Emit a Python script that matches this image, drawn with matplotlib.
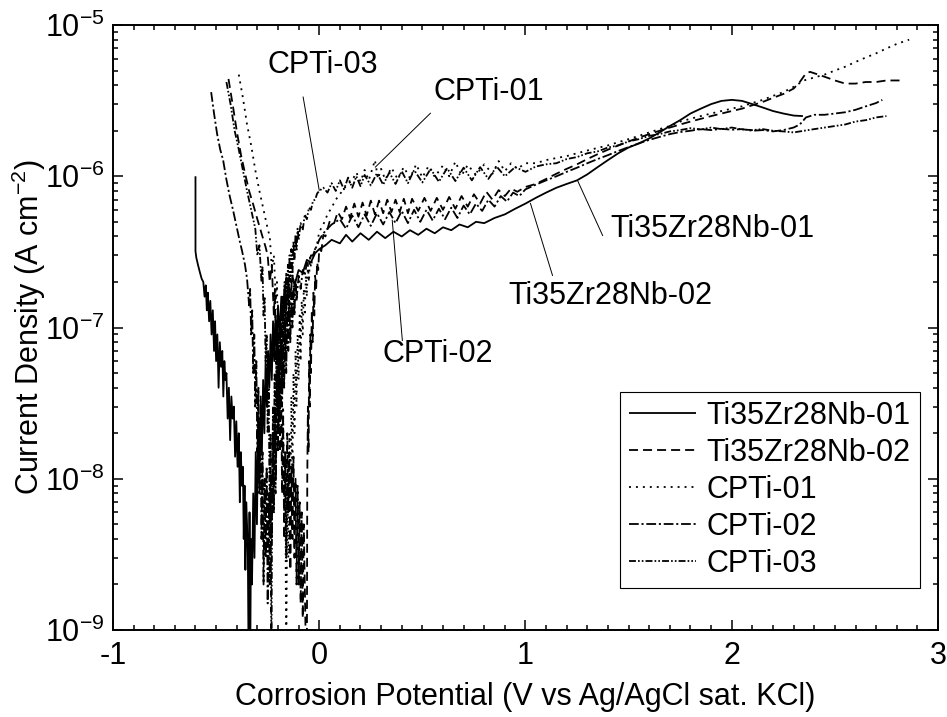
import numpy as np
import matplotlib
matplotlib.use("Agg")
import matplotlib.pyplot as plt
from matplotlib.ticker import MultipleLocator, LogLocator, NullFormatter

plt.rcParams['font.family'] = ['Liberation Sans', 'DejaVu Sans']
plt.rcParams['mathtext.fontset'] = 'custom'
plt.rcParams['mathtext.rm'] = 'Liberation Sans'
plt.rcParams['mathtext.default'] = 'regular'
plt.rcParams['axes.unicode_minus'] = False
plt.rcParams['lines.scale_dashes'] = False

## potentiodynamic scans: (potential V, current density A/cm2)

ti01 = [(-0.600, 1.0e-6), (-0.600, 3.2e-7), (-0.596, 2.9e-7), (-0.588, 2.6e-7), (-0.578, 2.3e-7),
        (-0.570, 2.1e-7), (-0.562, 2.0e-7), (-0.556, 1.6e-7), (-0.550, 1.9e-7), (-0.545, 1.3e-7),
        (-0.540, 1.7e-7), (-0.534, 1.1e-7), (-0.528, 1.5e-7), (-0.522, 9.0e-8), (-0.516, 1.3e-7),
        (-0.510, 7.0e-8), (-0.505, 1.1e-7), (-0.500, 6.0e-8), (-0.494, 9.0e-8), (-0.488, 4.0e-8),
        (-0.482, 8.0e-8), (-0.476, 5.5e-8), (-0.470, 7.0e-8), (-0.465, 3.5e-8), (-0.460, 6.0e-8),
        (-0.455, 4.5e-8), (-0.450, 5.0e-8), (-0.444, 2.5e-8), (-0.438, 4.0e-8), (-0.432, 1.8e-8),
        (-0.426, 3.5e-8), (-0.420, 2.5e-8), (-0.414, 3.0e-8), (-0.408, 1.4e-8), (-0.402, 2.4e-8),
        (-0.396, 1.2e-8), (-0.390, 2.0e-8), (-0.385, 7.0e-9), (-0.380, 1.5e-8), (-0.375, 9.0e-9),
        (-0.370, 1.2e-8), (-0.366, 4.0e-9), (-0.362, 9.0e-9), (-0.358, 2.5e-9), (-0.354, 7.0e-9),
        (-0.350, 5.0e-9), (-0.346, 3.0e-9), (-0.342, 5e-10), (-0.338, 6.0e-9), (-0.335, 5e-10),
        (-0.331, 4.0e-9), (-0.326, 2.0e-9), (-0.320, 8.0e-9), (-0.314, 3.0e-9), (-0.308, 1.5e-8),
        (-0.302, 5.0e-9), (-0.296, 2.5e-8), (-0.290, 9.0e-9), (-0.284, 3.5e-8), (-0.278, 1.5e-8),
        (-0.272, 4.5e-8), (-0.266, 2.0e-8), (-0.260, 6.0e-8), (-0.254, 3.0e-8), (-0.248, 7.0e-8),
        (-0.242, 4.0e-8), (-0.236, 9.0e-8), (-0.230, 4.5e-8), (-0.224, 1.1e-7), (-0.218, 6.0e-8),
        (-0.212, 1.2e-7), (-0.206, 7.0e-8), (-0.200, 1.4e-7), (-0.192, 9.0e-8), (-0.184, 1.6e-7),
        (-0.176, 1.1e-7), (-0.168, 1.8e-7), (-0.160, 1.3e-7), (-0.150, 2.0e-7), (-0.140, 1.6e-7),
        (-0.130, 2.2e-7), (-0.120, 1.9e-7), (-0.100, 2.4e-7), (-0.080, 2.3e-7), (-0.060, 2.8e-7),
        (-0.040, 2.7e-7), (-0.020, 3.1e-7), (0.000, 3.3e-7), (0.030, 3.5e-7), (0.060, 3.8e-7),
        (0.100, 3.6e-7), (0.130, 4.1e-7), (0.160, 3.7e-7), (0.200, 4.2e-7), (0.240, 3.8e-7),
        (0.280, 4.3e-7), (0.320, 3.9e-7), (0.360, 4.3e-7), (0.400, 4.0e-7), (0.440, 4.4e-7),
        (0.480, 4.1e-7), (0.520, 4.5e-7), (0.560, 4.2e-7), (0.600, 4.6e-7), (0.640, 4.4e-7),
        (0.680, 4.8e-7), (0.720, 4.6e-7), (0.760, 5.0e-7), (0.800, 4.9e-7), (0.850, 5.3e-7),
        (0.900, 5.6e-7), (0.950, 6.1e-7), (1.000, 6.6e-7), (1.050, 7.2e-7), (1.100, 7.8e-7),
        (1.150, 8.4e-7), (1.200, 8.9e-7), (1.250, 9.4e-7), (1.300, 1.03e-6), (1.350, 1.15e-6),
        (1.400, 1.28e-6), (1.450, 1.42e-6), (1.500, 1.55e-6), (1.550, 1.65e-6), (1.600, 1.78e-6),
        (1.650, 1.95e-6), (1.700, 2.15e-6), (1.750, 2.35e-6), (1.800, 2.6e-6), (1.850, 2.8e-6),
        (1.900, 3.0e-6), (1.950, 3.15e-6), (2.000, 3.2e-6), (2.050, 3.15e-6), (2.100, 3.0e-6),
        (2.150, 2.85e-6), (2.200, 2.7e-6), (2.250, 2.6e-6), (2.300, 2.52e-6), (2.345, 2.5e-6)]

ti02 = [(-0.440, 4.4e-6), (-0.420, 3.0e-6), (-0.400, 2.0e-6), (-0.380, 1.4e-6), (-0.360, 1.05e-6),
        (-0.340, 8.0e-7), (-0.320, 6.5e-7), (-0.300, 5.2e-7), (-0.280, 4.2e-7), (-0.260, 3.4e-7),
        (-0.250, 3.0e-7), (-0.240, 2.0e-7), (-0.230, 2.6e-7), (-0.220, 1.2e-7), (-0.215, 1.8e-7),
        (-0.210, 6.0e-8), (-0.205, 1.1e-7), (-0.200, 3.0e-8), (-0.195, 7.0e-8), (-0.190, 1.5e-8),
        (-0.185, 4.0e-8), (-0.180, 8.0e-9), (-0.175, 2.5e-8), (-0.170, 4.0e-9), (-0.165, 1.5e-8),
        (-0.160, 3.0e-9), (-0.155, 2.0e-8), (-0.150, 6.0e-9), (-0.145, 1.5e-8), (-0.140, 2.5e-9),
        (-0.135, 1.2e-8), (-0.130, 4.0e-9), (-0.125, 1.4e-8), (-0.120, 3.0e-9), (-0.115, 1.0e-8),
        (-0.110, 2.0e-9), (-0.105, 9.0e-9), (-0.100, 2.0e-9), (-0.095, 7.0e-9), (-0.090, 1.5e-9),
        (-0.085, 6.0e-9), (-0.080, 1.2e-9), (-0.075, 5.0e-9), (-0.070, 2.0e-9), (-0.063, 5e-10),
        (-0.060, 5e-10), (-0.058, 1.0e-8), (-0.055, 3.0e-8), (-0.052, 1.5e-8), (-0.049, 6.0e-8),
        (-0.046, 3.0e-8), (-0.043, 9.0e-8), (-0.040, 5.0e-8), (-0.036, 1.3e-7), (-0.032, 8.0e-8),
        (-0.028, 1.7e-7), (-0.024, 1.2e-7), (-0.020, 2.2e-7), (-0.015, 1.8e-7), (-0.010, 2.7e-7),
        (-0.005, 2.4e-7), (0.000, 3.3e-7), (0.010, 3.2e-7), (0.020, 4.1e-7), (0.030, 4.0e-7),
        (0.050, 5.0e-7), (0.070, 4.8e-7), (0.090, 5.8e-7), (0.110, 5.2e-7), (0.130, 6.3e-7),
        (0.150, 5.3e-7), (0.170, 6.6e-7), (0.190, 5.4e-7), (0.210, 6.7e-7), (0.230, 5.5e-7),
        (0.250, 6.9e-7), (0.270, 5.6e-7), (0.290, 6.9e-7), (0.310, 5.7e-7), (0.330, 7.0e-7),
        (0.350, 5.8e-7), (0.370, 7.0e-7), (0.390, 5.8e-7), (0.410, 7.1e-7), (0.430, 5.7e-7),
        (0.450, 7.1e-7), (0.480, 5.9e-7), (0.510, 7.2e-7), (0.540, 5.9e-7), (0.570, 7.2e-7),
        (0.600, 6.0e-7), (0.630, 7.3e-7), (0.660, 6.1e-7), (0.690, 7.4e-7), (0.720, 6.3e-7),
        (0.750, 7.6e-7), (0.780, 6.6e-7), (0.810, 7.9e-7), (0.840, 7.0e-7), (0.870, 8.1e-7),
        (0.900, 7.4e-7), (0.930, 8.3e-7), (0.960, 7.9e-7), (1.000, 8.5e-7), (1.050, 8.9e-7),
        (1.100, 9.6e-7), (1.150, 1.04e-6), (1.200, 1.12e-6), (1.250, 1.2e-6), (1.300, 1.3e-6),
        (1.350, 1.4e-6), (1.400, 1.5e-6), (1.450, 1.6e-6), (1.500, 1.7e-6), (1.550, 1.8e-6),
        (1.600, 1.9e-6), (1.650, 2.0e-6), (1.700, 2.1e-6), (1.750, 2.2e-6), (1.800, 2.3e-6),
        (1.850, 2.4e-6), (1.900, 2.5e-6), (1.950, 2.6e-6), (2.000, 2.7e-6), (2.050, 2.8e-6),
        (2.100, 2.95e-6), (2.150, 3.1e-6), (2.200, 3.3e-6), (2.250, 3.5e-6), (2.300, 3.8e-6),
        (2.330, 4.2e-6), (2.360, 4.8e-6), (2.380, 4.9e-6), (2.420, 4.7e-6), (2.460, 4.5e-6),
        (2.500, 4.3e-6), (2.550, 4.1e-6), (2.600, 4.1e-6), (2.650, 4.2e-6), (2.700, 4.2e-6),
        (2.750, 4.3e-6), (2.820, 4.3e-6)]

cpti01 = [(-0.390, 4.7e-6), (-0.370, 3.3e-6), (-0.350, 2.2e-6), (-0.330, 1.6e-6), (-0.310, 1.1e-6),
          (-0.290, 8.0e-7), (-0.270, 6.0e-7), (-0.250, 4.5e-7), (-0.240, 4.0e-7), (-0.230, 2.5e-7),
          (-0.220, 3.0e-7), (-0.210, 1.5e-7), (-0.205, 2.0e-7), (-0.200, 8.0e-8), (-0.195, 1.2e-7),
          (-0.190, 4.0e-8), (-0.185, 7.0e-8), (-0.180, 1.5e-8), (-0.175, 3.0e-8), (-0.170, 6.0e-9),
          (-0.165, 1.5e-8), (-0.160, 5e-10), (-0.155, 1.0e-8), (-0.150, 3.0e-9), (-0.145, 2.0e-8),
          (-0.140, 6.0e-9), (-0.135, 3.5e-8), (-0.130, 1.0e-8), (-0.125, 5.0e-8), (-0.120, 2.0e-8),
          (-0.115, 7.0e-8), (-0.110, 3.0e-8), (-0.105, 9.0e-8), (-0.100, 4.5e-8), (-0.095, 1.2e-7),
          (-0.090, 6.0e-8), (-0.085, 1.5e-7), (-0.080, 9.0e-8), (-0.075, 1.8e-7), (-0.070, 1.2e-7),
          (-0.065, 2.2e-7), (-0.060, 1.6e-7), (-0.055, 2.6e-7), (-0.050, 2.0e-7), (-0.045, 2.9e-7),
          (-0.040, 2.5e-7), (-0.030, 3.1e-7), (-0.020, 3.3e-7), (-0.010, 3.6e-7), (0.000, 4.3e-7),
          (0.020, 4.8e-7), (0.040, 5.6e-7), (0.060, 6.2e-7), (0.080, 7.0e-7), (0.100, 7.6e-7),
          (0.120, 8.3e-7), (0.140, 8.9e-7), (0.160, 9.4e-7), (0.180, 1.06e-6), (0.200, 9.2e-7),
          (0.220, 1.1e-6), (0.240, 9.4e-7), (0.260, 1.15e-6), (0.270, 1.28e-6), (0.285, 9.6e-7),
          (0.300, 1.12e-6), (0.320, 9.5e-7), (0.350, 1.14e-6), (0.380, 9.6e-7), (0.410, 1.15e-6),
          (0.440, 9.7e-7), (0.470, 1.2e-6), (0.500, 9.8e-7), (0.530, 1.17e-6), (0.560, 9.9e-7),
          (0.600, 1.18e-6), (0.630, 1.0e-6), (0.660, 1.25e-6), (0.690, 1.01e-6), (0.720, 1.19e-6),
          (0.760, 1.02e-6), (0.800, 1.2e-6), (0.840, 1.04e-6), (0.870, 1.26e-6), (0.900, 1.08e-6),
          (0.930, 1.22e-6), (0.960, 1.12e-6), (1.000, 1.22e-6), (1.050, 1.22e-6), (1.100, 1.28e-6),
          (1.150, 1.32e-6), (1.200, 1.36e-6), (1.250, 1.42e-6), (1.300, 1.48e-6), (1.350, 1.54e-6),
          (1.400, 1.6e-6), (1.450, 1.68e-6), (1.500, 1.76e-6), (1.550, 1.85e-6), (1.600, 1.95e-6),
          (1.650, 2.05e-6), (1.700, 2.15e-6), (1.750, 2.3e-6), (1.800, 2.4e-6), (1.850, 2.5e-6),
          (1.900, 2.6e-6), (1.950, 2.7e-6), (2.000, 2.8e-6), (2.050, 2.9e-6), (2.100, 3.05e-6),
          (2.150, 3.2e-6), (2.200, 3.4e-6), (2.250, 3.6e-6), (2.300, 3.9e-6), (2.350, 4.3e-6),
          (2.400, 4.5e-6), (2.450, 4.7e-6), (2.500, 5.0e-6), (2.550, 5.3e-6), (2.600, 5.7e-6),
          (2.650, 6.1e-6), (2.700, 6.5e-6), (2.750, 7.0e-6), (2.800, 7.5e-6), (2.860, 8.0e-6)]

cpti02 = [(-0.524, 3.6e-6), (-0.510, 2.6e-6), (-0.495, 1.9e-6), (-0.480, 1.5e-6), (-0.466, 1.28e-6),
          (-0.450, 9.5e-7), (-0.435, 7.5e-7), (-0.417, 5.9e-7), (-0.400, 4.6e-7), (-0.385, 3.7e-7),
          (-0.374, 3.2e-7), (-0.360, 2.6e-7), (-0.350, 2.1e-7), (-0.340, 1.4e-7), (-0.335, 1.8e-7),
          (-0.330, 9.0e-8), (-0.325, 1.3e-7), (-0.320, 5.0e-8), (-0.315, 9.0e-8), (-0.310, 3.0e-8),
          (-0.305, 6.0e-8), (-0.300, 1.5e-8), (-0.295, 4.0e-8), (-0.290, 8.0e-9), (-0.285, 2.5e-8),
          (-0.280, 4.0e-9), (-0.275, 1.5e-8), (-0.270, 2.0e-9), (-0.265, 1.0e-8), (-0.260, 3.0e-9),
          (-0.255, 1.2e-8), (-0.250, 1.5e-9), (-0.245, 8.0e-9), (-0.240, 2.0e-9), (-0.235, 1.0e-8),
          (-0.230, 4.0e-9), (-0.225, 2.0e-8), (-0.220, 6.0e-9), (-0.215, 3.0e-8), (-0.210, 1.0e-8),
          (-0.205, 4.5e-8), (-0.200, 1.5e-8), (-0.195, 6.0e-8), (-0.190, 2.5e-8), (-0.185, 7.0e-8),
          (-0.180, 3.0e-8), (-0.175, 9.0e-8), (-0.170, 4.0e-8), (-0.165, 1.1e-7), (-0.160, 5.0e-8),
          (-0.155, 1.3e-7), (-0.150, 7.0e-8), (-0.145, 1.5e-7), (-0.140, 8.0e-8), (-0.135, 1.7e-7),
          (-0.130, 1.0e-7), (-0.125, 1.9e-7), (-0.120, 1.2e-7), (-0.115, 2.1e-7), (-0.110, 1.5e-7),
          (-0.100, 2.2e-7), (-0.090, 1.8e-7), (-0.080, 2.4e-7), (-0.070, 2.2e-7), (-0.060, 2.7e-7),
          (-0.050, 2.6e-7), (-0.040, 3.0e-7), (-0.030, 3.0e-7), (-0.020, 3.3e-7), (-0.010, 3.5e-7),
          (0.000, 3.8e-7), (0.020, 4.2e-7), (0.040, 4.5e-7), (0.060, 4.8e-7), (0.080, 5.0e-7),
          (0.100, 5.2e-7), (0.130, 4.5e-7), (0.160, 5.5e-7), (0.190, 4.6e-7), (0.220, 5.6e-7),
          (0.250, 4.7e-7), (0.280, 5.7e-7), (0.310, 4.8e-7), (0.340, 5.8e-7), (0.370, 4.9e-7),
          (0.400, 5.9e-7), (0.430, 4.9e-7), (0.460, 6.0e-7), (0.490, 5.0e-7), (0.520, 6.0e-7),
          (0.550, 5.1e-7), (0.580, 6.1e-7), (0.610, 5.2e-7), (0.640, 6.2e-7), (0.670, 5.3e-7),
          (0.700, 6.4e-7), (0.730, 5.6e-7), (0.760, 6.6e-7), (0.790, 5.9e-7), (0.820, 7.0e-7),
          (0.850, 6.3e-7), (0.880, 7.4e-7), (0.910, 6.8e-7), (0.940, 7.8e-7), (0.970, 7.4e-7),
          (1.000, 8.2e-7), (1.050, 8.8e-7), (1.100, 9.4e-7), (1.150, 1.0e-6), (1.200, 1.07e-6),
          (1.250, 1.14e-6), (1.300, 1.22e-6), (1.350, 1.3e-6), (1.400, 1.38e-6), (1.450, 1.47e-6),
          (1.500, 1.56e-6), (1.550, 1.65e-6), (1.600, 1.74e-6), (1.650, 1.82e-6), (1.700, 1.9e-6),
          (1.750, 1.96e-6), (1.800, 2.0e-6), (1.850, 2.05e-6), (1.900, 2.02e-6), (1.950, 2.06e-6),
          (2.000, 2.03e-6), (2.050, 2.05e-6), (2.100, 2.0e-6), (2.150, 2.02e-6), (2.200, 1.98e-6),
          (2.250, 2.02e-6), (2.300, 2.1e-6), (2.330, 2.2e-6), (2.360, 2.45e-6), (2.400, 2.55e-6),
          (2.450, 2.55e-6), (2.500, 2.6e-6), (2.550, 2.65e-6), (2.600, 2.75e-6), (2.650, 2.9e-6),
          (2.700, 3.05e-6), (2.730, 3.2e-6)]

cpti03 = [(-0.450, 4.2e-6), (-0.430, 3.0e-6), (-0.410, 2.0e-6), (-0.390, 1.5e-6), (-0.370, 1.1e-6),
          (-0.350, 8.0e-7), (-0.330, 6.0e-7), (-0.310, 4.5e-7), (-0.300, 3.0e-7), (-0.290, 3.5e-7),
          (-0.280, 2.0e-7), (-0.275, 2.5e-7), (-0.270, 1.2e-7), (-0.265, 1.6e-7), (-0.260, 6.0e-8),
          (-0.255, 9.0e-8), (-0.250, 2.0e-8), (-0.245, 4.0e-8), (-0.240, 5.0e-9), (-0.236, 2.0e-8),
          (-0.232, 5e-10), (-0.228, 1.0e-8), (-0.224, 3.0e-8), (-0.220, 1.5e-8), (-0.216, 5.0e-8),
          (-0.212, 8.0e-9), (-0.208, 6.0e-8), (-0.204, 3.0e-8), (-0.200, 9.0e-8), (-0.196, 2.0e-8),
          (-0.192, 1.1e-7), (-0.188, 6.0e-8), (-0.184, 1.4e-7), (-0.180, 4.0e-8), (-0.176, 1.6e-7),
          (-0.172, 9.0e-8), (-0.168, 2.0e-7), (-0.164, 7.0e-8), (-0.160, 2.3e-7), (-0.156, 1.4e-7),
          (-0.152, 2.6e-7), (-0.148, 1.1e-7), (-0.144, 3.0e-7), (-0.140, 2.0e-7), (-0.135, 3.3e-7),
          (-0.130, 2.2e-7), (-0.125, 3.7e-7), (-0.120, 2.8e-7), (-0.115, 4.1e-7), (-0.110, 3.2e-7),
          (-0.105, 4.5e-7), (-0.100, 3.8e-7), (-0.090, 4.9e-7), (-0.080, 4.4e-7), (-0.070, 5.6e-7),
          (-0.060, 5.2e-7), (-0.050, 6.2e-7), (-0.040, 6.0e-7), (-0.030, 6.9e-7), (-0.020, 7.0e-7),
          (-0.010, 7.7e-7), (0.000, 8.0e-7), (0.020, 8.4e-7), (0.040, 7.8e-7), (0.060, 9.0e-7),
          (0.080, 8.0e-7), (0.100, 9.4e-7), (0.120, 8.2e-7), (0.140, 9.8e-7), (0.160, 8.4e-7),
          (0.180, 1.0e-6), (0.200, 8.6e-7), (0.220, 1.02e-6), (0.250, 8.7e-7), (0.280, 1.05e-6),
          (0.310, 8.8e-7), (0.340, 1.06e-6), (0.370, 8.9e-7), (0.400, 1.08e-6), (0.430, 9.0e-7),
          (0.460, 1.1e-6), (0.500, 9.1e-7), (0.540, 1.12e-6), (0.580, 9.2e-7), (0.620, 1.13e-6),
          (0.660, 9.3e-7), (0.700, 1.14e-6), (0.740, 9.4e-7), (0.780, 1.15e-6), (0.820, 9.6e-7),
          (0.860, 1.16e-6), (0.900, 1.0e-6), (0.950, 1.15e-6), (1.000, 1.07e-6), (1.050, 1.16e-6),
          (1.100, 1.2e-6), (1.150, 1.22e-6), (1.200, 1.3e-6), (1.250, 1.34e-6), (1.300, 1.42e-6),
          (1.350, 1.46e-6), (1.400, 1.55e-6), (1.450, 1.6e-6), (1.500, 1.7e-6), (1.550, 1.76e-6),
          (1.600, 1.85e-6), (1.650, 1.9e-6), (1.700, 1.98e-6), (1.750, 2.02e-6), (1.800, 2.08e-6),
          (1.850, 2.04e-6), (1.900, 2.1e-6), (1.950, 2.05e-6), (2.000, 2.1e-6), (2.050, 2.04e-6),
          (2.100, 2.02e-6), (2.150, 2.05e-6), (2.200, 2.0e-6), (2.250, 1.98e-6), (2.300, 1.95e-6),
          (2.350, 2.0e-6), (2.400, 2.05e-6), (2.450, 2.1e-6), (2.500, 2.15e-6), (2.550, 2.2e-6),
          (2.600, 2.3e-6), (2.650, 2.35e-6), (2.700, 2.45e-6), (2.750, 2.5e-6)]

series_names = ['Ti35Zr28Nb-01', 'Ti35Zr28Nb-02', 'CPTi-01', 'CPTi-02', 'CPTi-03']
series_data = [ti01, ti02, cpti01, cpti02, cpti03]
series_dashes = [(0, ()), (0, (6.5, 3.6)), (0, (1.4, 3.6)), (0, (7, 2, 1.5, 2)),
                 (0, (5, 1.5, 1.2, 1.5, 1.2, 1.5))]

# leader labels: text, text anchor, line start, line end
labels = [('CPTi-03', (0.019, 4.81e-6), (-0.078, 3.34e-6), (0.000, 8.07e-7)),
          ('CPTi-01', (0.823, 3.19e-6), (0.539, 2.61e-6), (0.272, 1.15e-6)),
          ('Ti35Zr28Nb-01', (1.908, 3.95e-7), (1.374, 4.06e-7), (1.252, 9.4e-7)),
          ('Ti35Zr28Nb-02', (1.413, 1.42e-7), (1.131, 2.21e-7), (1.024, 6.62e-7)),
          ('CPTi-02', (0.575, 5.96e-8), (0.403, 8.2e-8), (0.354, 5.12e-7))]

fig = plt.figure(figsize=(9.47, 7.17), dpi=100)
ax = fig.add_axes([0.1193, 0.1213, 0.8712, 0.8438])

for name, data, ls in zip(series_names, series_data, series_dashes):
    E, i = np.array(data).T
    ax.plot(E, i, color='black', lw=1.3, linestyle=ls, label=name)

for text, txy, p0, p1 in labels:
    ax.text(txy[0], txy[1], text, fontsize=22, ha='center', va='baseline')
    ax.plot([p0[0], p1[0]], [p0[1], p1[1]], color='black', lw=0.7)

ax.set_yscale('log')
ax.set_xlim(-1, 3)
ax.set_ylim(1e-9, 1e-5)
ax.set_xticks([-1, 0, 1, 2, 3])
ax.xaxis.set_minor_locator(MultipleLocator(0.1))
ax.yaxis.set_major_locator(LogLocator(base=10, numticks=10))
ax.yaxis.set_minor_locator(LogLocator(base=10, subs=np.arange(2, 10), numticks=10))
ax.yaxis.set_minor_formatter(NullFormatter())

ax.tick_params(which='both', direction='in', top=True, right=True, labelsize=22)
ax.tick_params(which='major', length=7.2, width=1.1, pad=8)
ax.tick_params(axis='y', which='major', pad=6)
ax.tick_params(which='minor', length=3.6, width=1.1)
for sp in ax.spines.values():
    sp.set_linewidth(1.4)

ax.set_xlabel('Corrosion Potential (V vs Ag/AgCl sat. KCl)', fontsize=22, labelpad=8)
ax.set_ylabel('Current Density (A cm$^{-2}$)', fontsize=22, labelpad=-2)

leg = ax.legend(loc='lower right', bbox_to_anchor=(0.978, 0.069), borderaxespad=0,
                fontsize=22, handlelength=2.2, handletextpad=0.33, labelspacing=0.23,
                borderpad=0.3, fancybox=False, framealpha=1, edgecolor='black')
leg.get_frame().set_linewidth(0.8)

fig.savefig('out.png', dpi=100)
